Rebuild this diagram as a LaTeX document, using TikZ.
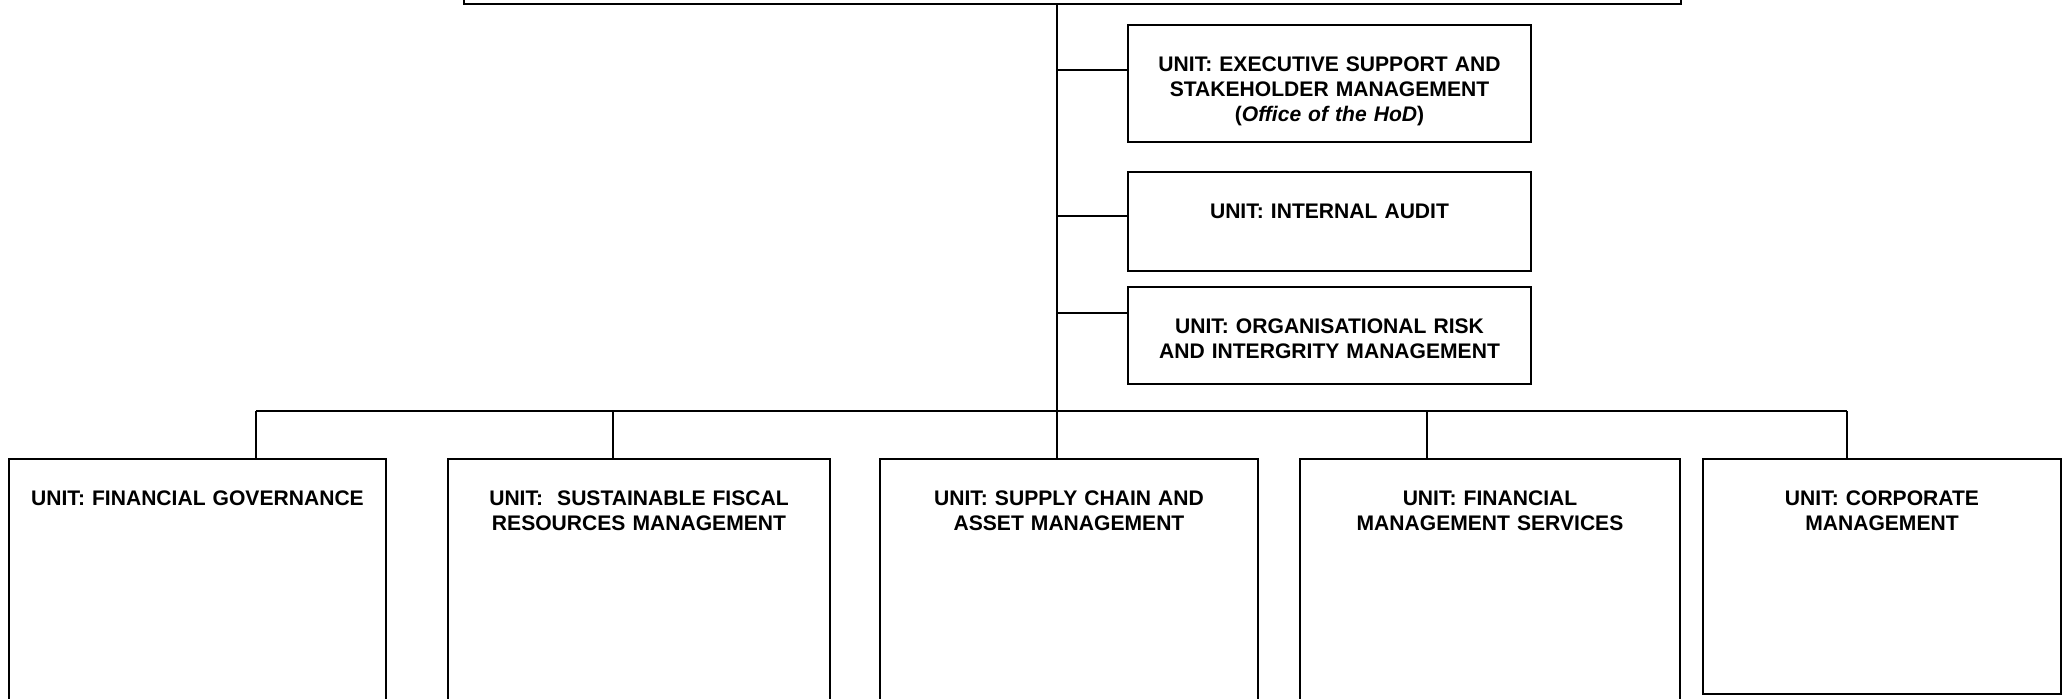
\documentclass[tikz,border=0pt]{standalone}
\usepackage{fontspec}
\setmainfont{Liberation Sans}
\usetikzlibrary{positioning}

\begin{document}
\begin{tikzpicture}[x=0.02cm,y=-0.02cm,
  unitbox/.style={draw,line width=1.1pt,inner sep=0pt,align=center,
    font=\bfseries\fontsize{12}{14.2}\selectfont,text height=0.94cm},
  link/.style={line width=1.1pt}]
\useasboundingbox (0,0) rectangle (2067,699);
\clip (0,0) rectangle (2067,699);

% head of department (cut off at the top)
\node[draw,line width=1.1pt,inner sep=0pt,minimum width=24.34cm,minimum height=1cm,anchor=south] (dept) at (1072.5,5) {};

% units reporting to the HoD
\node[unitbox,anchor=north,text width=8.06cm,text depth=1.4cm] (exec) at (1329.5,24)
  {UNIT: EXECUTIVE SUPPORT AND\\STAKEHOLDER MANAGEMENT\\(\textit{Office of the HoD})};
\node[unitbox,anchor=north,text width=8.06cm,text depth=1.04cm] (audit) at (1329.5,171)
  {UNIT: INTERNAL AUDIT};
\node[unitbox,anchor=north,text width=8.06cm,text depth=1.0cm] (risk) at (1329.5,286)
  {UNIT: ORGANISATIONAL RISK\\AND INTERGRITY MANAGEMENT};

% line units
\node[unitbox,anchor=north,text width=7.54cm,text depth=5.1cm] (fingov) at (197.5,458)
  {UNIT: FINANCIAL GOVERNANCE};
\node[unitbox,anchor=north,text width=7.64cm,text depth=5.1cm] (fiscal) at (639,458)
  {UNIT:\ \ SUSTAINABLE FISCAL\\RESOURCES MANAGEMENT};
\node[unitbox,anchor=north,text width=7.56cm,text depth=5.1cm] (supply) at (1069,458)
  {UNIT: SUPPLY CHAIN AND\\ASSET MANAGEMENT};
\node[unitbox,anchor=north,text width=7.6cm,text depth=5.1cm] (finserv) at (1490,458)
  {UNIT: FINANCIAL\\MANAGEMENT SERVICES};
\node[unitbox,anchor=north,text width=7.16cm,text depth=3.76cm] (corp) at (1882,458)
  {UNIT: CORPORATE\\MANAGEMENT};

% trunk and bus
\coordinate (j1) at (256,411);
\coordinate (j2) at (613,411);
\coordinate (j3) at (1057,411);
\coordinate (j4) at (1427,411);
\coordinate (j5) at (1847,411);
\draw[link] (dept.south -| j3) -- (j3 |- supply.north);
\draw[link] (j1) -- (j5);
\foreach \j/\b in {j1/fingov,j2/fiscal,j4/finserv,j5/corp}
  \draw[link] (\j) -- (\j |- \b.north);

% side branches
\coordinate (t1) at (1057,70);
\coordinate (t2) at (1057,216);
\coordinate (t3) at (1057,313);
\draw[link] (t1) -- (t1 -| exec.west);
\draw[link] (t2) -- (t2 -| audit.west);
\draw[link] (t3) -- (t3 -| risk.west);
\end{tikzpicture}
\end{document}
